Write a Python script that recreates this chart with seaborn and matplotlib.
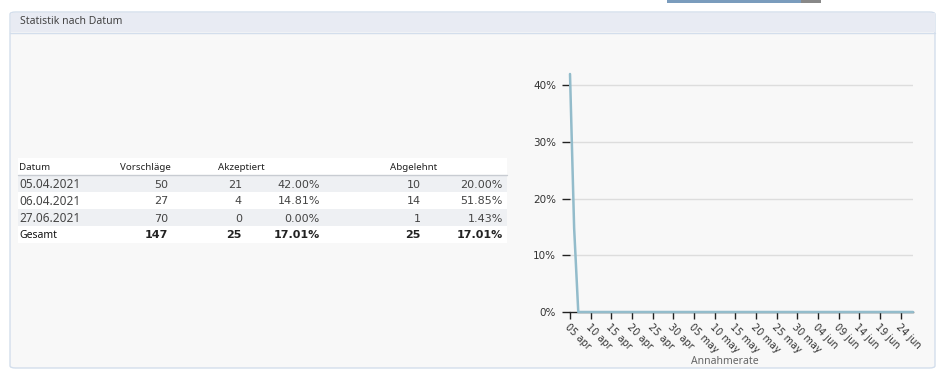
import numpy as np
import pandas as pd
import matplotlib
matplotlib.use('Agg')
import matplotlib.pyplot as plt
from matplotlib.patches import Rectangle, FancyBboxPatch
import seaborn as sns

# table data
dates_tbl = ['05.04.2021', '06.04.2021', '27.06.2021']
vorschlaege = [50, 27, 70]
akzeptiert = [21, 4, 0]
akzeptiert_pct = ['42.00%', '14.81%', '0.00%']
abgelehnt = [10, 14, 1]
abgelehnt_pct = ['20.00%', '51.85%', '1.43%']
gesamt = ['147', '25', '17.01%', '25', '17.01%']

# daily acceptance rate (%) from 05 apr to 27 jun
rate_start = '2021-04-05'
rate_values = [42.00, 14.81,
               0, 0, 0, 0, 0, 0, 0, 0, 0, 0, 0, 0, 0, 0, 0, 0, 0, 0, 0, 0, 0, 0, 0, 0,
               0, 0, 0, 0, 0, 0, 0, 0, 0, 0, 0, 0, 0, 0, 0, 0, 0, 0, 0, 0, 0, 0, 0, 0,
               0, 0, 0, 0, 0, 0, 0, 0, 0, 0, 0, 0, 0, 0, 0, 0, 0, 0, 0, 0, 0, 0, 0, 0,
               0, 0, 0, 0, 0, 0, 0, 0, 0, 0]
yticks = [0, 10, 20, 30, 40]

W, H = 945, 377
sns.set_theme(style='white')
plt.rcParams['font.family'] = ['DejaVu Sans']

fig = plt.figure(figsize=(W / 100, H / 100), dpi=100)
fig.patch.set_facecolor('white')


def fx(x):
    return x / W


def fy(y):
    return 1 - y / H


def rect(x0, y0, x1, y1, color, z=-5):
    fig.add_artist(Rectangle((fx(x0), fy(y1)), fx(x1) - fx(x0), fy(y0) - fy(y1),
                             transform=fig.transFigure, facecolor=color,
                             edgecolor='none', zorder=z))


# top bar fragment
rect(667, 0, 801, 2.5, '#7a9cbd')
rect(801, 0, 821, 2.5, '#888888')

# panel
fig.add_artist(FancyBboxPatch((fx(10), fy(368)), fx(935) - fx(10), fy(12) - fy(368),
                              boxstyle='round,pad=0,rounding_size=0.006',
                              transform=fig.transFigure, facecolor='#f8f8f8',
                              edgecolor='#d3deec', linewidth=1, zorder=-10))
rect(10.5, 12.5, 934.5, 32, '#e8ebf3', z=-9)
fig.add_artist(plt.Line2D([fx(10), fx(935)], [fy(32.5), fy(32.5)],
                          transform=fig.transFigure, color='#d3deec', lw=1, zorder=-8))
fig.text(fx(20), fy(22), 'Statistik nach Datum', fontsize=7.5, color='#444444',
         va='center', ha='left', family=['Noto Sans', 'DejaVu Sans'])

# table
row_top = [158, 175, 192, 209, 226]
row_h = 17
row_bg = ['#ffffff', '#eef0f3', '#ffffff', '#eef0f3', '#ffffff']
for top, bg in zip(row_top, row_bg):
    rect(18, top, 507, top + row_h, bg)
fig.add_artist(plt.Line2D([fx(18), fx(507)], [fy(175), fy(175)],
                          transform=fig.transFigure, color='#c8ccd2', lw=1, zorder=-4))

hdr_font = ['Noto Sans', 'DejaVu Sans']
for label, x in [('Datum', 19), ('Vorschläge', 120), ('Akzeptiert', 218), ('Abgelehnt', 390)]:
    fig.text(fx(x), fy(167), label, fontsize=7, color='#222222', va='center',
             ha='left', family=hdr_font)

col_right = [168, 242, 320, 421, 503]
txt_col = '#444444'
for i, d in enumerate(dates_tbl):
    y = fy(184.5 + i * row_h)
    fig.text(fx(19), y, d, fontsize=8.5, color=txt_col, va='center', ha='left',
             family=hdr_font)
    vals = [str(vorschlaege[i]), str(akzeptiert[i]), akzeptiert_pct[i],
            str(abgelehnt[i]), abgelehnt_pct[i]]
    for v, xr in zip(vals, col_right):
        fig.text(fx(xr), y, v, fontsize=8, color=txt_col, va='center', ha='right')

y = fy(235.5)
fig.text(fx(19), y, 'Gesamt', fontsize=7.5, color='#111111', va='center', ha='left',
         weight='bold', family=hdr_font)
for v, xr in zip(gesamt, col_right):
    fig.text(fx(xr), y, v, fontsize=8, color='#222222', va='center', ha='right',
             weight='bold')

# chart
ax = fig.add_axes([fx(570), fy(312), fx(913) - fx(570), fy(74) - fy(312)])
ax.set_facecolor('none')
days = pd.date_range(rate_start, periods=len(rate_values), freq='D')
df = pd.DataFrame({'date': days, 'rate': rate_values})
sns.lineplot(data=df, x='date', y='rate', ax=ax, color='#93bccb', linewidth=1.8)
ax.lines[0].set_clip_on(False)

ax.set_xlim(days[0], days[-1])
ax.set_ylim(0, 42)
ax.set_yticks(yticks)
ax.set_yticklabels(['%d%%' % v for v in yticks])
ax.yaxis.grid(True, color='#dddddd', linewidth=1)
ax.set_axisbelow(True)

xt = pd.date_range(rate_start, days[-1], freq='5D')
ax.set_xticks(xt)
ax.set_xticklabels([d.strftime('%d %b').lower() for d in xt], rotation=-45,
                   ha='left', rotation_mode='anchor', fontsize=7, color='#333333')
ax.tick_params(axis='y', labelsize=7.5, colors='#333333', length=6, width=1,
               left=True, pad=4)
ax.tick_params(axis='x', length=5, width=1, bottom=True, pad=2, color='#222222')
ax.tick_params(axis='y', color='#222222')

for s in ['top', 'right', 'left']:
    ax.spines[s].set_visible(False)
ax.spines['bottom'].set_color('#222222')
ax.spines['bottom'].set_linewidth(1)
ax.spines['bottom'].set_zorder(0.5)

ax.set_xlabel('Annahmerate', fontsize=7.5, color='#666666', va='center',
              family=hdr_font)
ax.xaxis.set_label_coords((725 - 570) / 343, -(362 - 312) / 238)
ax.set_ylabel('')

fig.savefig('out.png', dpi=100)
